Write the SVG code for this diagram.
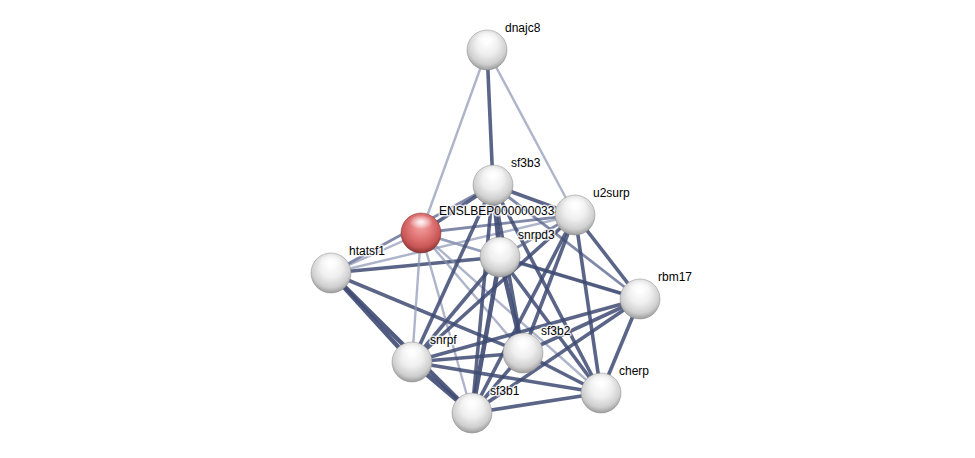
<svg xmlns="http://www.w3.org/2000/svg" width="975" height="458" viewBox="0 0 975 458">
<style>
.e{fill:none;stroke-linecap:butt}
.d{stroke:#3e4a72;stroke-width:3.6;stroke-opacity:.85}
.t{stroke:#3e4a72;stroke-width:4.5;stroke-opacity:.9}
.m{stroke:#56618a;stroke-width:2.8;stroke-opacity:.75}
.l{stroke:#8c96b4;stroke-width:2.4;stroke-opacity:.7}
.lab{font-family:"Liberation Sans",Arial,sans-serif;font-size:12px;fill:#000;stroke:#fff;stroke-width:3;stroke-opacity:.8;paint-order:stroke;stroke-linejoin:round}
.ball{fill:url(#gw);stroke:#8a8a8a;stroke-width:.8;stroke-opacity:.6}
.red{fill:url(#gr);stroke:#7a3030;stroke-width:.8;stroke-opacity:.6}
.hl{fill:url(#gh)}
</style>
<defs>
<radialGradient id="gw" cx="50%" cy="40%" r="60%" fx="50%" fy="30%">
<stop offset="0" stop-color="#ffffff"/>
<stop offset="0.45" stop-color="#efefef"/>
<stop offset="0.8" stop-color="#cfcfcf"/>
<stop offset="1" stop-color="#9c9c9c"/>
</radialGradient>
<radialGradient id="gr" cx="50%" cy="40%" r="60%" fx="50%" fy="30%">
<stop offset="0" stop-color="#f4a8a8"/>
<stop offset="0.45" stop-color="#e27878"/>
<stop offset="0.8" stop-color="#c85656"/>
<stop offset="1" stop-color="#8e3434"/>
</radialGradient>
<radialGradient id="gh" cx="50%" cy="50%" r="50%">
<stop offset="0" stop-color="#fff" stop-opacity=".95"/>
<stop offset="1" stop-color="#fff" stop-opacity="0"/>
</radialGradient>
</defs>
<rect width="975" height="458" fill="#fff"/>
<g id="edges">
<line class="e l" x1="487" y1="50" x2="421" y2="233"/>
<line class="e d" x1="487" y1="50" x2="493" y2="185"/>
<line class="e l" x1="487" y1="50" x2="575" y2="215"/>
<line class="e l" x1="331" y1="273" x2="421" y2="233"/>
<line class="e m" x1="331" y1="273" x2="493" y2="185"/>
<line class="e l" x1="331" y1="273" x2="575" y2="215"/>
<line class="e d" x1="331" y1="273" x2="500" y2="257"/>
<line class="e t" x1="331" y1="273" x2="412" y2="362"/>
<line class="e t" x1="331" y1="273" x2="472" y2="413"/>
<line class="e d" x1="331" y1="273" x2="523" y2="353"/>
<line class="e d" x1="421" y1="233" x2="493" y2="185"/>
<line class="e m" x1="421" y1="233" x2="575" y2="215"/>
<line class="e l" x1="421" y1="233" x2="500" y2="257"/>
<line class="e l" x1="421" y1="233" x2="412" y2="362"/>
<line class="e l" x1="421" y1="233" x2="472" y2="413"/>
<line class="e l" x1="421" y1="233" x2="523" y2="353"/>
<line class="e l" x1="421" y1="233" x2="601" y2="393"/>
<line class="e l" x1="421" y1="233" x2="640" y2="299"/>
<line class="e d" x1="493" y1="185" x2="575" y2="215"/>
<line class="e t" x1="493" y1="185" x2="500" y2="257"/>
<line class="e d" x1="493" y1="185" x2="412" y2="362"/>
<line class="e d" x1="493" y1="185" x2="472" y2="413"/>
<line class="e d" x1="493" y1="185" x2="523" y2="353"/>
<line class="e d" x1="493" y1="185" x2="601" y2="393"/>
<line class="e m" x1="493" y1="185" x2="640" y2="299"/>
<line class="e m" x1="575" y1="215" x2="500" y2="257"/>
<line class="e d" x1="575" y1="215" x2="640" y2="299"/>
<line class="e d" x1="575" y1="215" x2="601" y2="393"/>
<line class="e d" x1="575" y1="215" x2="523" y2="353"/>
<line class="e d" x1="575" y1="215" x2="472" y2="413"/>
<line class="e d" x1="575" y1="215" x2="412" y2="362"/>
<line class="e d" x1="500" y1="257" x2="412" y2="362"/>
<line class="e t" x1="500" y1="257" x2="472" y2="413"/>
<line class="e t" x1="500" y1="257" x2="523" y2="353"/>
<line class="e d" x1="500" y1="257" x2="601" y2="393"/>
<line class="e d" x1="500" y1="257" x2="640" y2="299"/>
<line class="e d" x1="640" y1="299" x2="523" y2="353"/>
<line class="e d" x1="640" y1="299" x2="412" y2="362"/>
<line class="e d" x1="640" y1="299" x2="601" y2="393"/>
<line class="e d" x1="640" y1="299" x2="472" y2="413"/>
<line class="e d" x1="523" y1="353" x2="412" y2="362"/>
<line class="e d" x1="523" y1="353" x2="472" y2="413"/>
<line class="e d" x1="523" y1="353" x2="601" y2="393"/>
<line class="e t" x1="412" y1="362" x2="472" y2="413"/>
<line class="e d" x1="412" y1="362" x2="601" y2="393"/>
<line class="e d" x1="472" y1="413" x2="601" y2="393"/>
</g>
<g id="n-ENSLBEP">
<text class="lab" x="439" y="215">ENSLBEP0000000334</text>
<circle class="red" cx="421" cy="233" r="20"/>
<ellipse class="hl" cx="421" cy="222" rx="12" ry="7"/>
</g>
<g id="n-dnajc8">
<text class="lab" x="505" y="32">dnajc8</text>
<circle class="ball" cx="487" cy="50" r="20"/>
<ellipse class="hl" cx="487" cy="39" rx="12" ry="7"/>
</g>
<g id="n-sf3b3">
<text class="lab" x="511" y="167">sf3b3</text>
<circle class="ball" cx="493" cy="185" r="20"/>
<ellipse class="hl" cx="493" cy="174" rx="12" ry="7"/>
</g>
<g id="n-snrpd3">
<text class="lab" x="518" y="239">snrpd3</text>
<circle class="ball" cx="500" cy="257" r="20"/>
<ellipse class="hl" cx="500" cy="246" rx="12" ry="7"/>
</g>
<g id="n-u2surp">
<text class="lab" x="593" y="197">u2surp</text>
<circle class="ball" cx="575" cy="215" r="20"/>
<ellipse class="hl" cx="575" cy="204" rx="12" ry="7"/>
</g>
<g id="n-htatsf1">
<text class="lab" x="349" y="255">htatsf1</text>
<circle class="ball" cx="331" cy="273" r="20"/>
<ellipse class="hl" cx="331" cy="262" rx="12" ry="7"/>
</g>
<g id="n-rbm17">
<text class="lab" x="658" y="281">rbm17</text>
<circle class="ball" cx="640" cy="299" r="20"/>
<ellipse class="hl" cx="640" cy="288" rx="12" ry="7"/>
</g>
<g id="n-sf3b2">
<text class="lab" x="541" y="335">sf3b2</text>
<circle class="ball" cx="523" cy="353" r="20"/>
<ellipse class="hl" cx="523" cy="342" rx="12" ry="7"/>
</g>
<g id="n-snrpf">
<text class="lab" x="430" y="344">snrpf</text>
<circle class="ball" cx="412" cy="362" r="20"/>
<ellipse class="hl" cx="412" cy="351" rx="12" ry="7"/>
</g>
<g id="n-cherp">
<text class="lab" x="619" y="375">cherp</text>
<circle class="ball" cx="601" cy="393" r="20"/>
<ellipse class="hl" cx="601" cy="382" rx="12" ry="7"/>
</g>
<g id="n-sf3b1">
<text class="lab" x="490" y="395">sf3b1</text>
<circle class="ball" cx="472" cy="413" r="20"/>
<ellipse class="hl" cx="472" cy="402" rx="12" ry="7"/>
</g>
</svg>
